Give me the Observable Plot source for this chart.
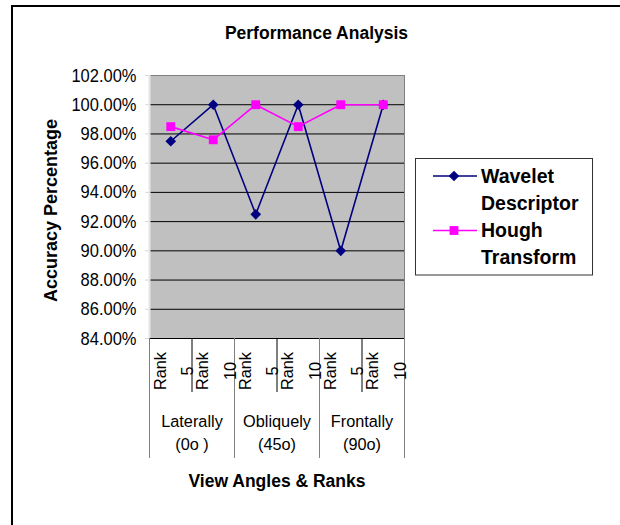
<!DOCTYPE html>
<html><head><meta charset="utf-8">
<script src="https://cdn.jsdelivr.net/npm/d3@7"></script>
<script src="https://cdn.jsdelivr.net/npm/@observablehq/plot@0.6"></script>
<style>body{margin:0;background:#fff}</style>
</head><body><div id="chart"></div>
<script>
const categories = ["Rank 5", "Rank 10", "Rank 5", "Rank 10", "Rank 5", "Rank 10"];
const groups = ["Laterally\n(0o )", "Obliquely\n(45o)", "Frontally\n(90o)"];
const wavelet = [97.5, 100, 92.5, 100, 90, 100];
const hough = [98.5, 97.6, 100, 98.5, 100, 100];
const yTicks = [84, 86, 88, 90, 92, 94, 96, 98, 100, 102];
const gridTicks = [86, 88, 90, 92, 94, 96, 98, 100];
const seriesNames = ["Wavelet\nDescriptor", "Hough\nTransform"];
const title = "Performance Analysis";
const xTitle = "View Angles & Ranks";
const yTitle = "Accuracy Percentage";

const W = 620, H = 525, mL = 149, mR = 216, mT = 75, mB = 187;
const frameH = H - mT - mB;
const font = "'Liberation Sans', Arial, sans-serif";

const rows = categories.map((c, i) => ({pos: i + 0.5, label: c.replace(" ", "\n"), wavelet: wavelet[i], hough: hough[i]}));
const bounds = d3.range(categories.length + 1);
const innerB = bounds.filter(b => b % 2 === 1);
const groupB = bounds.filter(b => b % 2 === 0);
const groupRows = groups.map((g, i) => ({pos: 2 * i + 1, label: g}));

const chart = Plot.plot({
  width: W, height: H,
  marginLeft: mL, marginRight: mR, marginTop: mT, marginBottom: mB,
  style: {fontFamily: font, fontSize: "17px", color: "black", background: "white", overflow: "visible"},
  x: {domain: [0, categories.length], axis: null},
  y: {domain: [84, 102], axis: null},
  marks: [
    Plot.frame({fill: "#c0c0c0", stroke: "none"}),
    Plot.gridY(gridTicks, {stroke: "black", strokeOpacity: 1}),
    Plot.frame({stroke: "#808080"}),
    Plot.ruleX([0], {stroke: "#e6e6e6", strokeWidth: 2}),
    Plot.ruleY([84], {stroke: "black"}),
    Plot.axisY(yTicks, {tickFormat: d => d.toFixed(2) + "%", tickSize: 4, tickPadding: 9, stroke: "#d8d8d8", fill: "black", fontSize: 16.5, label: null}),
    Plot.ruleX(innerB, {stroke: "black", insetTop: frameH, insetBottom: -54}),
    Plot.ruleX(groupB, {stroke: "#808080", insetTop: frameH, insetBottom: -120}),
    Plot.text(rows, {ariaLabel: "rank labels", x: "pos", text: "label", frameAnchor: "bottom", dy: 32.5, rotate: -90,
      textAnchor: "middle", lineAnchor: "middle", lineHeight: 1.69, fontSize: 16.3, fill: "black"}),
    Plot.text(groupRows, {ariaLabel: "group labels", x: "pos", text: "label", frameAnchor: "bottom", dy: 93,
      textAnchor: "middle", lineAnchor: "middle", lineHeight: 1.41, fontSize: 16.3, fill: "black"}),
    Plot.text([xTitle], {frameAnchor: "bottom", dy: 143, textAnchor: "middle", lineAnchor: "middle",
      fontWeight: "bold", fontSize: 17.5, fill: "black"}),
    Plot.text([yTitle], {frameAnchor: "left", dx: -98.5, dy: 3.5, rotate: -90, textAnchor: "middle",
      lineAnchor: "middle", fontWeight: "bold", fontSize: 18, fill: "black"}),
    Plot.text([title], {frameAnchor: "top", dx: 39.5, dy: -42, textAnchor: "middle", lineAnchor: "middle",
      fontWeight: "bold", fontSize: 17.5, fill: "black"}),
    Plot.line(rows, {x: "pos", y: "wavelet", stroke: "#000080", strokeWidth: 1.6}),
    Plot.dot(rows, {x: "pos", y: "wavelet", symbol: "diamond2", fill: "#000080", stroke: "none", r: 4.8}),
    Plot.line(rows, {x: "pos", y: "hough", stroke: "#ff00ff", strokeWidth: 1.6}),
    Plot.dot(rows, {x: "pos", y: "hough", symbol: "square", fill: "#ff00ff", stroke: "none", r: 5})
  ]
});
document.getElementById("chart").appendChild(chart);

const svg = d3.select(chart);

// the reference's axis text is drawn taller than wide: stretch vertically about each label's centre
function stretchY(nodes, k) {
  nodes.forEach(el => {
    const r = el.getBoundingClientRect();
    const m = el.parentNode.getScreenCTM();
    const py = (r.top + r.height / 2 - m.f) / m.d;
    el.setAttribute("transform", `translate(0,${py}) scale(1,${k}) translate(0,${-py}) ` + (el.getAttribute("transform") || ""));
  });
}
stretchY(svg.selectAll('g[aria-label="y-axis tick label"] text').nodes(), 1.13);
stretchY(svg.selectAll('g[aria-label="rank labels"] text').nodes(), 1.16);
stretchY(svg.selectAll('g[aria-label="group labels"] text').nodes(), 1.2);

// outer chart border (left and top visible)
svg.append("path").attr("d", `M12,${H}V6H${W}`).attr("fill", "none").attr("stroke", "black").attr("stroke-width", 2);

// legend
const lg = svg.append("g").attr("font-family", font).attr("font-weight", "bold").attr("font-size", 19.5).attr("text-anchor", "start");
lg.append("rect").attr("x", 415.5).attr("y", 158.5).attr("width", 177).attr("height", 116.5)
  .attr("fill", "white").attr("stroke", "#333").attr("stroke-width", 1);
const colors = ["#000080", "#ff00ff"];
const symbols = [d3.symbolDiamond2, d3.symbolSquare];
const sizes = [Math.PI * 4.8 * 4.8, Math.PI * 25];
seriesNames.forEach((name, k) => {
  const y0 = 176 + k * 54.5;
  lg.append("line").attr("x1", 433).attr("x2", 477).attr("y1", y0).attr("y2", y0)
    .attr("stroke", colors[k]).attr("stroke-width", 1.6);
  lg.append("path").attr("transform", `translate(454,${y0})`)
    .attr("d", d3.symbol(symbols[k], sizes[k])()).attr("fill", colors[k]);
  name.split("\n").forEach((t, j) => {
    lg.append("text").attr("x", 481).attr("y", y0 + j * 27).attr("dy", "0.35em").attr("fill", "black").text(t);
  });
});
</script>
</body></html>
